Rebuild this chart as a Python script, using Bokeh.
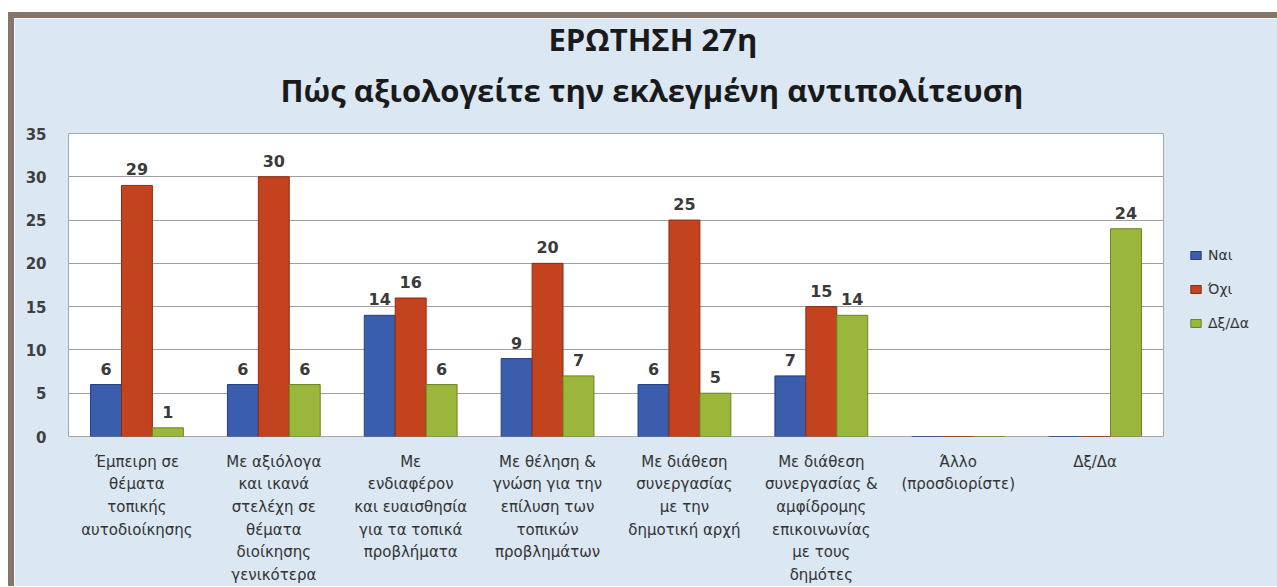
from bokeh.plotting import figure
from bokeh.models import ColumnDataSource, Legend, LegendItem, Title, FixedTicker
from bokeh.core.properties import value
from bokeh.embed import file_html
from bokeh.resources import INLINE

categories = ["c1", "c2", "c3", "c4", "c5", "c6", "c7", "c8"]
tick_labels = [
    "Έμπειρη σε\nθέματα\nτοπικής\nαυτοδιοίκησης",
    "Με αξιόλογα\nκαι ικανά\nστελέχη σε\nθέματα\nδιοίκησης\nγενικότερα",
    "Με\nενδιαφέρον\nκαι ευαισθησία\nγια τα τοπικά\nπροβλήματα",
    "Με θέληση &\nγνώση για την\nεπίλυση των\nτοπικών\nπροβλημάτων",
    "Με διάθεση\nσυνεργασίας\nμε την\nδημοτική αρχή",
    "Με διάθεση\nσυνεργασίας &\nαμφίδρομης\nεπικοινωνίας\nμε τους\nδημότες",
    "Άλλο\n(προσδιορίστε)",
    "Δξ/Δα",
]
title_line1 = "ΕΡΩΤΗΣΗ 27η"
title_line2 = "Πώς αξιολογείτε την εκλεγμένη αντιπολίτευση"
series_names = ["Ναι", "Όχι", "Δξ/Δα"]
nai = [6, 6, 14, 9, 6, 7, 0, 0]
ochi = [29, 30, 16, 20, 25, 15, 0, 0]
dxda = [1, 6, 6, 7, 5, 14, 0, 24]
y_ticks = [0, 5, 10, 15, 20, 25, 30, 35]

colors = ["#3a5dae", "#c3431f", "#9bb73b"]
edge_colors = ["#243f80", "#8e2c12", "#6d8424"]

BAR_W = 0.226
offsets = [-BAR_W, 0.0, BAR_W]
xpos = list(range(len(categories)))

p = figure(
    x_range=(-0.5, len(categories) - 0.5),
    y_range=(0, 35),
    frame_width=1095, frame_height=303,
    output_backend="svg", toolbar_location=None,
    min_border_left=54, min_border_right=113,
    min_border_top=115, min_border_bottom=150,
    styles={"border-top": "6px solid #85756b", "border-left": "6px solid #85756b",
            "margin-top": "12px", "margin-left": "8px"},
)
p.border_fill_color = "#dce7f4"
p.background_fill_color = "white"
p.outline_line_color = "#a6a6a6"
p.outline_line_width = 1

# second line sits next to the frame, first line above it
p.add_layout(Title(text=title_line2, align="left", offset=212,
                   text_font="Open Sans", text_font_style="bold", standoff=45,
                   text_font_size="31px", text_color="#1a1a1a"), "above")
p.title = Title(text=title_line1, align="left", offset=480,
                text_font="Open Sans", text_font_style="bold", standoff=-31,
                text_font_size="31px", text_color="#1a1a1a")

series = [nai, ochi, dxda]
renderers = []
for vals, off, col, ecol in zip(series, offsets, colors, edge_colors):
    xs = [x + off for x in xpos]
    src = ColumnDataSource(dict(x=xs, val=vals))
    r = p.vbar(x="x", top="val", width=BAR_W,
               source=src, fill_color=col, line_color=ecol, line_width=1)
    renderers.append(r)
    lab_x = [x for x, v in zip(xs, vals) if v != 0]
    lab_val = [v for v in vals if v != 0]
    lsrc = ColumnDataSource(dict(x=lab_x, val=lab_val, txt=[str(v) for v in lab_val]))
    p.text(x="x", y="val", text="txt", source=lsrc,
           text_align="center", text_baseline="bottom", y_offset=-10,
           text_font=value("DejaVu Sans"), text_font_style="bold",
           text_font_size="16px", text_color="#3a3a3a")

leg_items = [LegendItem(label=n, renderers=[r]) for n, r in zip(series_names, renderers)]
legend = Legend(items=leg_items, location=(26, 103),
                background_fill_alpha=0, border_line_alpha=0,
                glyph_width=13, glyph_height=10, label_height=20,
                spacing=14, padding=0, margin=0,
                label_text_font="DejaVu Sans", label_text_font_size="14px",
                label_text_color="#333333", label_standoff=6)
p.add_layout(legend, "right")

p.yaxis.ticker = y_ticks
p.yaxis.axis_line_color = None
p.yaxis.major_tick_line_color = None
p.yaxis.minor_tick_line_color = None
p.yaxis.major_label_text_font = "DejaVu Sans"
p.yaxis.major_label_text_font_style = "bold"
p.yaxis.major_label_text_font_size = "15px"
p.yaxis.major_label_text_color = "#404040"
p.yaxis.major_label_standoff = 16

p.xaxis.ticker = FixedTicker(ticks=xpos)
p.xaxis.axis_line_color = None
p.xaxis.major_tick_line_color = None
p.xaxis.minor_tick_line_color = None
p.xaxis.major_label_overrides = {i: t for i, t in zip(xpos, tick_labels)}
p.xaxis.major_label_text_font = "DejaVu Sans"
p.xaxis.major_label_text_font_size = "15px"
p.xaxis.major_label_text_color = "#333333"
p.xaxis.major_label_text_line_height = 1.26
p.xaxis.major_label_standoff = 10

p.xgrid.grid_line_color = None
p.ygrid.grid_line_color = "#a0a0a0"
p.ygrid.grid_line_width = 1

open("out.html", "w").write(file_html(p, INLINE))
